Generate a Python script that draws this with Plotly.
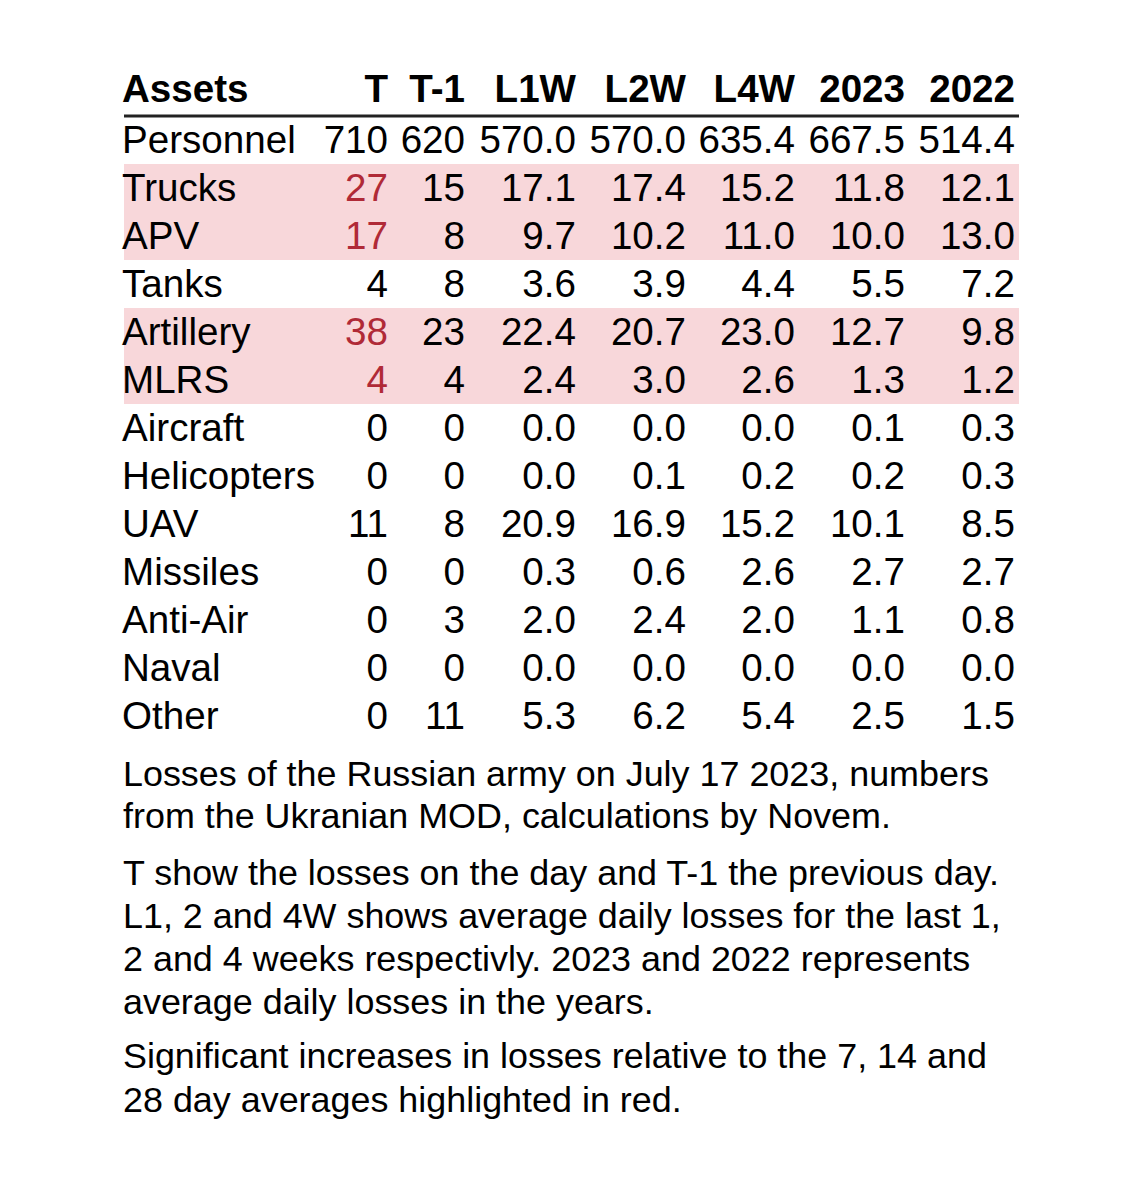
import plotly.graph_objects as go

# ---------------- data ----------------
assets = ["Personnel", "Trucks", "APV", "Tanks", "Artillery", "MLRS", "Aircraft",
          "Helicopters", "UAV", "Missiles", "Anti-Air", "Naval", "Other"]
headers = ["Assets", "T", "T-1", "L1W", "L2W", "L4W", "2023", "2022"]
t_day = [710, 27, 17, 4, 38, 4, 0, 0, 11, 0, 0, 0, 0]
t_prev = [620, 15, 8, 8, 23, 4, 0, 0, 8, 0, 3, 0, 11]
l1w = [570.0, 17.1, 9.7, 3.6, 22.4, 2.4, 0.0, 0.0, 20.9, 0.3, 2.0, 0.0, 5.3]
l2w = [570.0, 17.4, 10.2, 3.9, 20.7, 3.0, 0.0, 0.1, 16.9, 0.6, 2.4, 0.0, 6.2]
l4w = [635.4, 15.2, 11.0, 4.4, 23.0, 2.6, 0.0, 0.2, 15.2, 2.6, 2.0, 0.0, 5.4]
y2023 = [667.5, 11.8, 10.0, 5.5, 12.7, 1.3, 0.1, 0.2, 10.1, 2.7, 1.1, 0.0, 2.5]
y2022 = [514.4, 12.1, 13.0, 7.2, 9.8, 1.2, 0.3, 0.3, 8.5, 2.7, 0.8, 0.0, 1.5]
highlighted = ["Trucks", "APV", "Artillery", "MLRS"]   # rows with a significant increase in T

captions = [
    ["Losses of the Russian army on July 17 2023, numbers",
     "from the Ukranian MOD, calculations by Novem."],
    ["T show the losses on the day and T-1 the previous day.",
     "L1, 2 and 4W shows average daily losses for the last 1,",
     "2 and 4 weeks respectivly. 2023 and 2022 represents",
     "average daily losses in the years."],
    ["Significant increases in losses relative to the 7, 14 and",
     "28 day averages highlighted in red."],
]

# ---------------- layout constants ----------------
W, H = 1140, 1182
PAGE_OFF = 8            # page body margin
FONT = "Liberation Sans, Arial, sans-serif"
FS = 38.6
CAP_FS = 35.9
ROW_H = 48
FIRST_ROW_PX = 140
TEXT_DY = 3.5 / ROW_H   # small downward nudge so glyphs sit centred in rows
LEFT = 124
TEXT_LEFT = 122
TABLE_RIGHT = 1019
col_right = [388, 465, 576, 686, 795, 905, 1015]   # right edges of numeric columns
HIGHLIGHT_FILL = "#F8D7DA"
RED = "#B02A37"
TEXT = "#000000"

n = len(assets)
rows = list(range(n))
y_text = [r + TEXT_DY for r in rows]
y_top = (PAGE_OFF - FIRST_ROW_PX) / ROW_H
y_bot = (PAGE_OFF + H - FIRST_ROW_PX) / ROW_H

fig = go.Figure()

# row labels
fig.add_trace(go.Scatter(
    x=[TEXT_LEFT] * n, y=y_text, mode="text", text=assets, textposition="middle right",
    marker=dict(size=0), textfont=dict(family=FONT, size=FS, color=TEXT),
    hoverinfo="skip", showlegend=False, cliponaxis=False))

cols = [t_day, t_prev, l1w, l2w, l4w, y2023, y2022]
for ci, vals in enumerate(cols):
    if ci < 2:
        txt = [f"{v:d}" for v in vals]
    else:
        txt = [f"{v:.1f}" for v in vals]
    colors = [RED if (ci == 0 and a in highlighted) else TEXT for a in assets]
    fig.add_trace(go.Scatter(
        x=[col_right[ci]] * n, y=y_text, mode="text", text=txt, textposition="middle left",
        marker=dict(size=0), textfont=dict(family=FONT, size=FS, color=colors),
        hoverinfo="skip", showlegend=False, cliponaxis=False))

# header
hdr_y = -1.06 + TEXT_DY
fig.add_trace(go.Scatter(
    x=[TEXT_LEFT], y=[hdr_y], mode="text", text=[f"<b>{headers[0]}</b>"], textposition="middle right",
    marker=dict(size=0), textfont=dict(family=FONT, size=FS, color=TEXT),
    hoverinfo="skip", showlegend=False, cliponaxis=False))
fig.add_trace(go.Scatter(
    x=col_right, y=[hdr_y] * len(col_right), mode="text",
    text=[f"<b>{h}</b>" for h in headers[1:]], textposition="middle left",
    marker=dict(size=0), textfont=dict(family=FONT, size=FS, color=TEXT),
    hoverinfo="skip", showlegend=False, cliponaxis=False))

shapes = []
for a in highlighted:
    i = assets.index(a)
    shapes.append(dict(type="rect", xref="x", yref="y", x0=LEFT, x1=TABLE_RIGHT,
                       y0=i - 0.5, y1=i + 0.5, fillcolor=HIGHLIGHT_FILL,
                       line=dict(width=0), layer="below"))
shapes.append(dict(type="line", xref="x", yref="y", x0=LEFT, x1=TABLE_RIGHT,
                   y0=-0.5, y1=-0.5, line=dict(color="#222222", width=3)))

# captions
annotations = []
cap_px = [[774, 816], [873, 916, 959, 1002], [1056, 1100]]
for para, pxs in zip(captions, cap_px):
    for line, px in zip(para, pxs):
        annotations.append(dict(
            text=line, xref="x", yref="paper", x=LEFT, y=1 - (px - PAGE_OFF) / H,
            xanchor="left", yanchor="middle", showarrow=False, xshift=-3,
            font=dict(family=FONT, size=CAP_FS, color=TEXT)))

fig.update_layout(
    width=W, height=H, margin=dict(l=0, r=0, t=0, b=0),
    paper_bgcolor="white", plot_bgcolor="white",
    xaxis=dict(range=[PAGE_OFF, PAGE_OFF + W], visible=False, fixedrange=True),
    yaxis=dict(range=[y_bot, y_top], visible=False, fixedrange=True),
    shapes=shapes, annotations=annotations, showlegend=False,
)

fig.write_html("out.html")
